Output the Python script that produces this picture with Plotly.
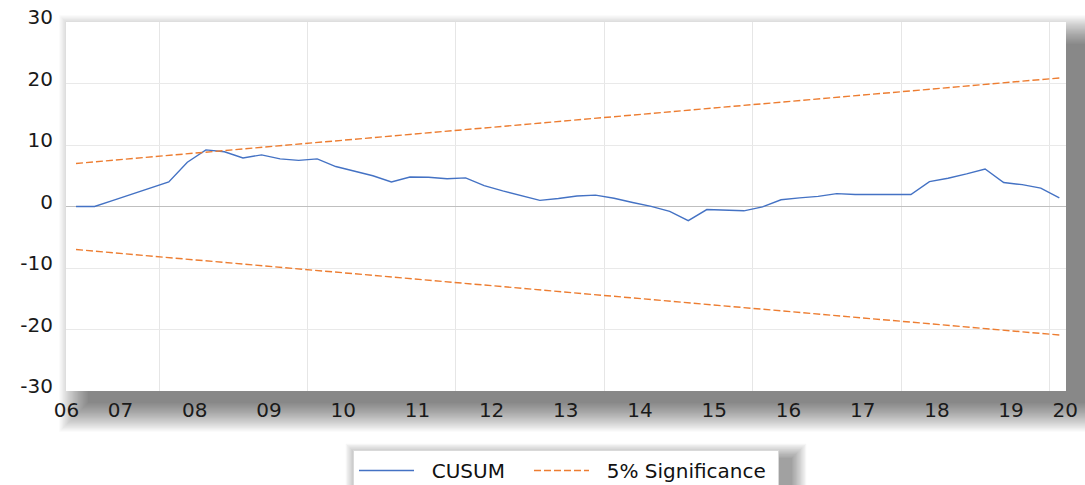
import plotly.graph_objects as go

# ---------------- data ----------------
first_period = 2006.40          # decimal year of first quarterly observation
cusum = [0.0, 0.0, 1.0, 2.0, 3.0, 4.0, 7.2, 9.2, 8.9, 7.9, 8.4, 7.75, 7.5, 7.75,
         6.5, 5.8, 5.0, 4.0, 4.8, 4.75, 4.5, 4.65, 3.4, 2.55, 1.75, 1.0, 1.3, 1.7,
         1.85, 1.35, 0.65, 0.02, -0.8, -2.3, -0.5, -0.6, -0.7, -0.05, 1.1, 1.4,
         1.65, 2.1, 1.95, 1.95, 1.95, 1.95, 4.05, 4.6, 5.3, 6.1, 3.9, 3.55, 3.0, 1.4]
sig_upper = [7.0, 20.9]         # 5% bound at first and last observation
sig_lower = [-7.0, -20.9]
year_labels = ["06", "07", "08", "09", "10", "11", "12", "13", "14", "15",
               "16", "17", "18", "19", "20"]
y_ticks = [-30, -20, -10, 0, 10, 20, 30]

periods = [first_period + 0.25 * i for i in range(len(cusum))]
ends = [periods[0], periods[-1]]

# ---------------- layout geometry ----------------
W, H = 1085, 485
L, R, T, B = 66, 1066, 22, 391
x_range = [2006.265, 2019.74]
label_pos = [x_range[0] + 0.005] + list(range(2007, 2020)) + [x_range[1] - 0.01]
grid_pos = [2007.52, 2009.52, 2011.52, 2013.52, 2015.52, 2017.52, 2019.52]


def px_x(p):
    return (p - L) / (R - L)


def px_y(p):
    return (B - p) / (B - T)


FONT = "DejaVu Sans"
NB = "\u00a0"

fig = go.Figure()
fig.add_trace(go.Scatter(x=periods, y=cusum, mode="lines",
                         name=NB * 2 + "CUSUM" + NB * 3,
                         line=dict(color="#4472C4", width=1.4)))
fig.add_trace(go.Scatter(x=ends, y=sig_upper, mode="lines",
                         name=NB * 2 + "5% Significance" + NB,
                         line=dict(color="#ED7D31", width=1.4, dash="7px,3px")))
fig.add_trace(go.Scatter(x=ends, y=sig_lower, mode="lines", name="5% Significance",
                         showlegend=False,
                         line=dict(color="#ED7D31", width=1.4, dash="7px,3px")))

shapes = []


def shadow(x0, y0, x1, y1, n, step, op):
    for k in range(n):
        r = k * step
        shapes.append(dict(type="rect", xref="paper", yref="paper", layer="below",
                           x0=px_x(x0 - r), x1=px_x(x1 + r),
                           y0=px_y(y1 + r), y1=px_y(y0 - r),
                           line=dict(width=0), fillcolor="black", opacity=op))


# drop shadow of the plot panel
shadow(L + 22, T + 22, R + 20, B + 12, 24, 1.25, 0.023)
# drop shadow of the legend box
shadow(360, 458, 792, 530, 12, 1.3, 0.035)
# white panel over the shadow
shapes.append(dict(type="rect", xref="paper", yref="paper", layer="below",
                   x0=0, x1=1, y0=0, y1=1, line=dict(width=0), fillcolor="white"))

fig.update_layout(
    width=W, height=H,
    margin=dict(l=L, r=W - R, t=T, b=H - B, autoexpand=False),
    paper_bgcolor="white", plot_bgcolor="white",
    font=dict(family=FONT, color="#1a1a1a"),
    shapes=shapes,
    showlegend=True,
    legend=dict(orientation="h", x=0.5, xanchor="center",
                y=px_y(450), yanchor="top",
                bgcolor="white", bordercolor="#d9d9d9", borderwidth=1,
                font=dict(family=FONT, size=20, color="#111111"),
                itemwidth=55),
    xaxis=dict(range=x_range, tickmode="array", tickvals=label_pos,
               ticktext=year_labels, showgrid=False, zeroline=False,
               showline=False, ticks="", ticklabelstandoff=5,
               tickfont=dict(family=FONT, size=20, color="#1a1a1a"),
               minor=dict(tickmode="array", tickvals=grid_pos, showgrid=True,
                          gridcolor="#e6e6e6", gridwidth=1.3, ticks="")),
    yaxis=dict(range=[-30, 30], tickmode="array", tickvals=y_ticks,
               ticktext=[str(v) for v in y_ticks],
               showgrid=True, gridcolor="#e9e9e9", gridwidth=1.3,
               zeroline=True, zerolinecolor="#bfbfbf", zerolinewidth=1.2,
               showline=False, ticks="", ticklabelstandoff=12, ticklabelshift=-5,
               tickfont=dict(family=FONT, size=20, color="#1a1a1a")),
)

fig.write_html("out.html", config={"displayModeBar": False},
               post_script="document.body.style.margin='0px';")
